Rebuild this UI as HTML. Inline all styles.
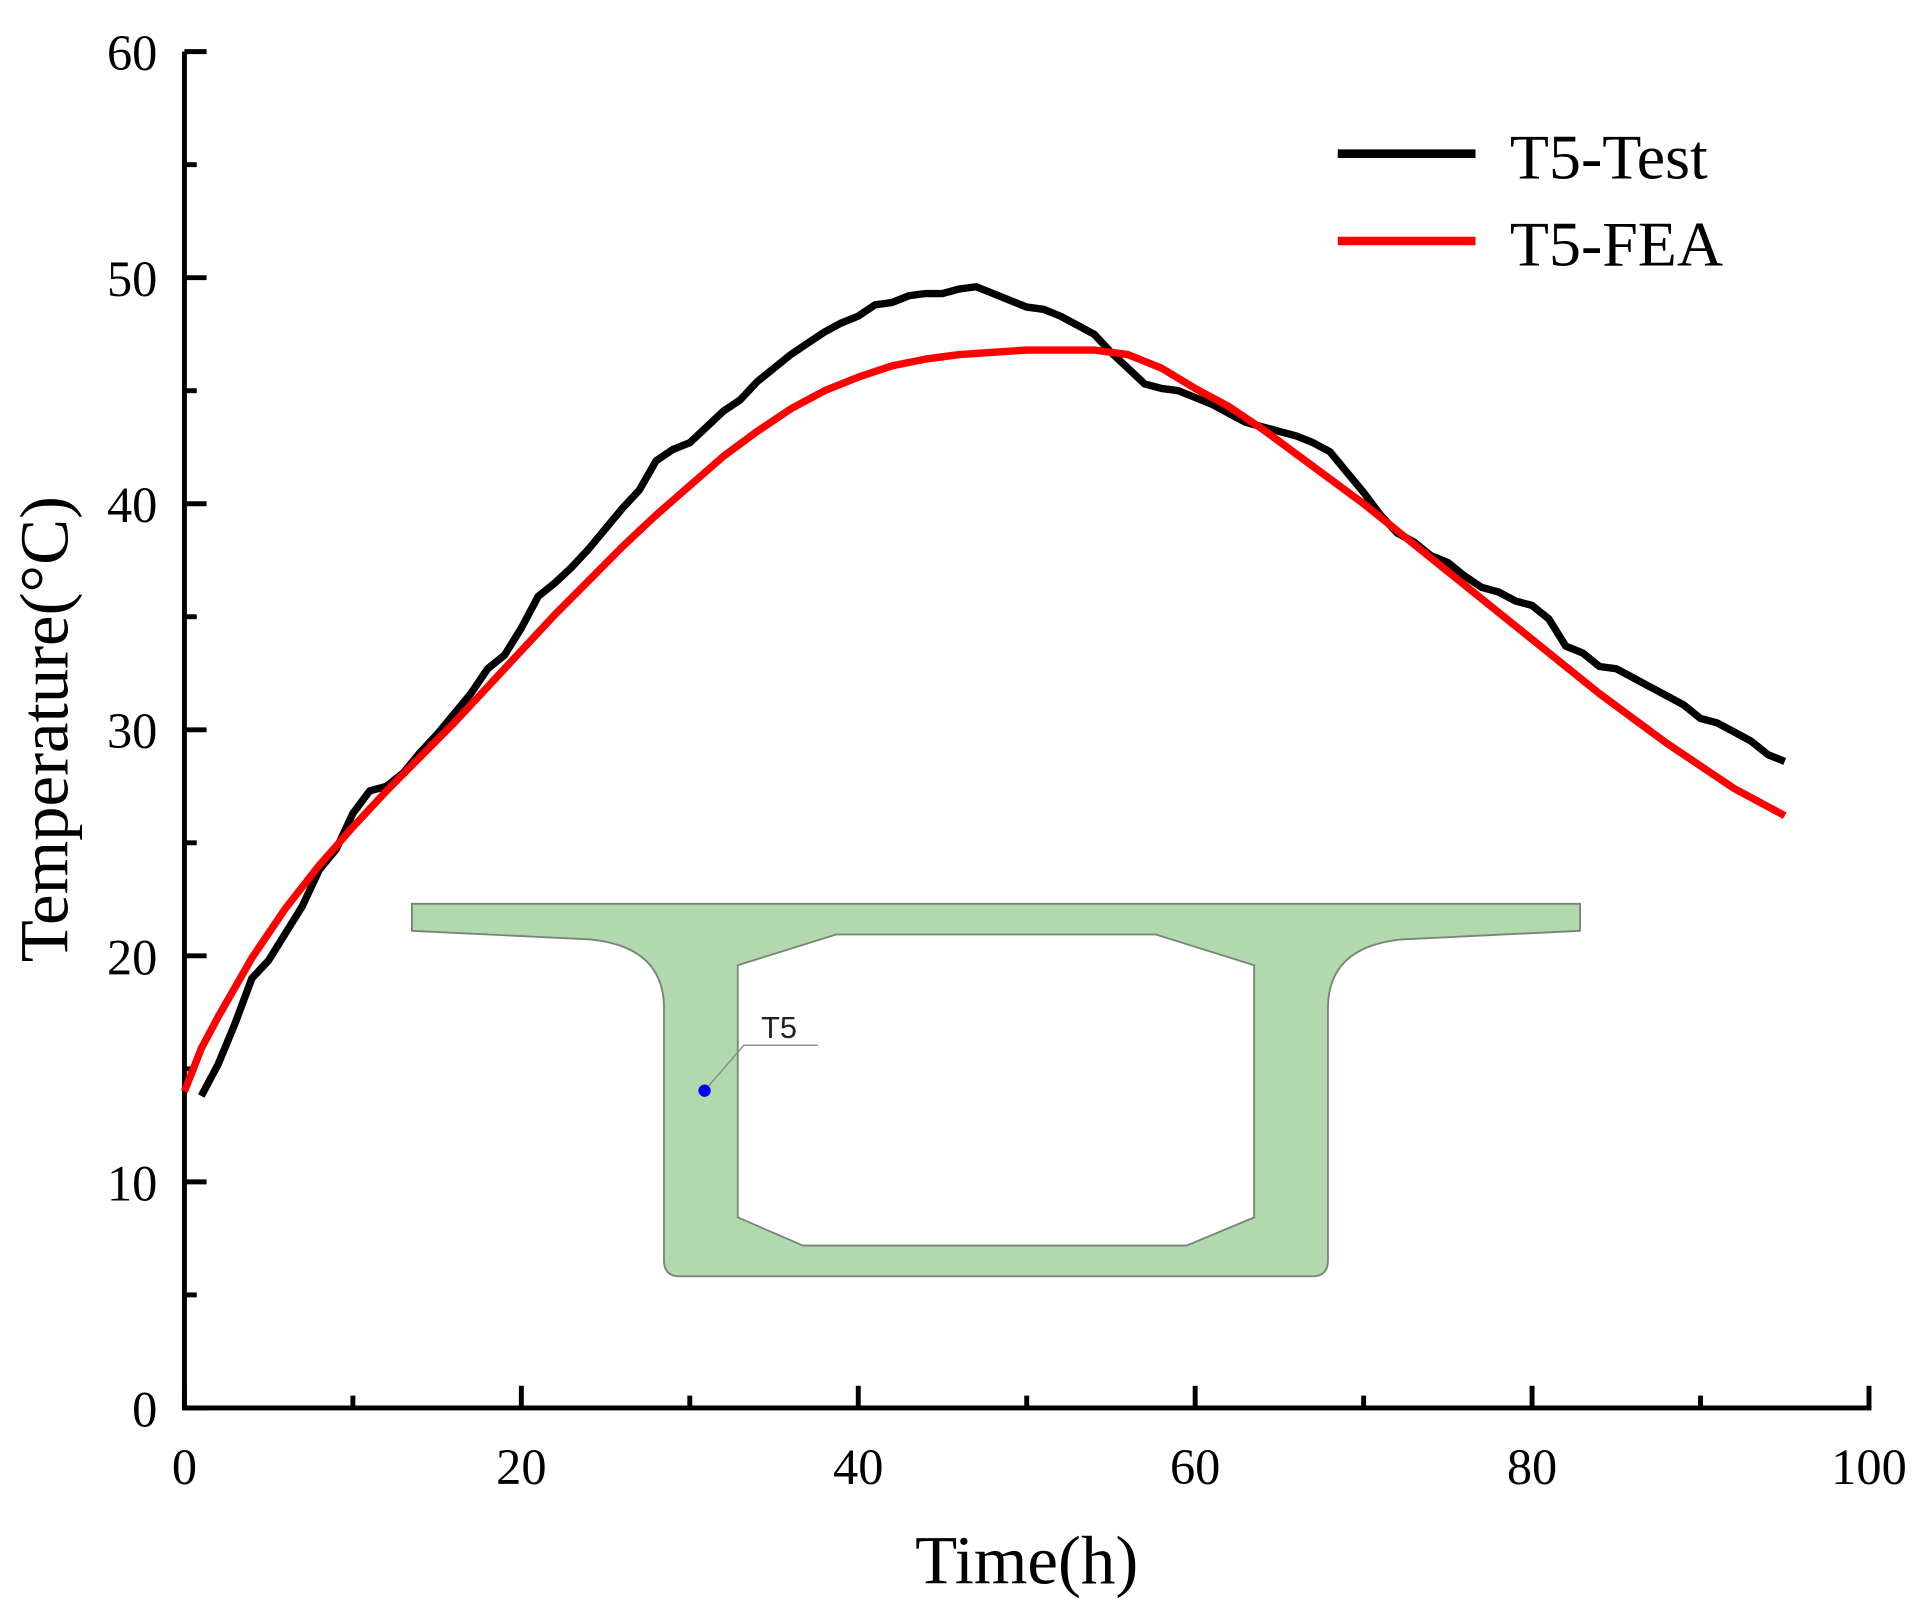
<!DOCTYPE html>
<html><head><meta charset="utf-8"><style>
html,body{margin:0;padding:0;background:#fff;}
svg{display:block;}
text{font-family:"Liberation Serif",serif;}
</style></head><body>
<svg id="chart" width="1928" height="1614" viewBox="0 0 1568 1312.6" preserveAspectRatio="none" xmlns="http://www.w3.org/2000/svg">
<g id="inset">
<path fill-rule="evenodd" fill="#b2d9ae" stroke="#7a857a" stroke-width="1.5"
 d="M335,735 H1285 V757 L1140,764 Q1080,770 1080,820 V1025 Q1080,1038 1067,1038 H553 Q540,1038 540,1025 V820 Q540,770 480,764 L335,757 Z
    M600,785 L680,760 H940 L1020,785 V990 L965,1013 H653 L600,990 Z"/>
<polyline points="573,887 605,850 665,850" fill="none" stroke="#888" stroke-width="1.2"/>
<circle cx="573" cy="887" r="5" fill="#0000ff"/>
<text x="619" y="844" font-size="25" style="font-family:'Liberation Sans',sans-serif" fill="#222">T5</text>
</g>
<g id="axes"></g>
<g id="series"></g>
<g>
<line x1="1088" y1="125" x2="1200" y2="125" stroke="#000" stroke-width="7"/>
<text x="1228" y="145" font-size="52">T5-Test</text>
<line x1="1088" y1="196" x2="1200" y2="196" stroke="#ff0000" stroke-width="7"/>
<text x="1228" y="216" font-size="52">T5-FEA</text>
</g>
<text x="835" y="1288" font-size="56" text-anchor="middle">Time(h)</text>
<text transform="translate(55,593) rotate(-90)" font-size="56" text-anchor="middle">Temperature(°C)</text>
</svg>
<script>
const xTicks=[0,20,40,60,80,100];
const yTicks=[0,10,20,30,40,50,60];
const testX=[1,2,3,4,5,6,7,8,9,10,11,12,13,14,15,16,17,18,19,20,21,22,23,24,25,26,27,28,29,30,31,32,33,34,35,36,37,38,39,40,41,42,43,44,45,46,47,48,49,50,51,52,53,54,55,56,57,58,59,60,61,62,63,64,65,66,67,68,69,70,71,72,73,74,75,76,77,78,79,80,81,82,83,84,85,86,87,88,89,90,91,92,93,94,95];
const testY=[13.8,15.2,17,19,19.8,21,22.2,23.8,24.7,26.3,27.3,27.5,28.1,29,29.8,30.7,31.6,32.7,33.3,34.5,35.9,36.5,37.2,38,38.9,39.8,40.6,41.9,42.4,42.7,43.4,44.1,44.6,45.4,46,46.6,47.1,47.6,48,48.3,48.8,48.9,49.2,49.3,49.3,49.5,49.6,49.3,49,48.7,48.6,48.3,47.9,47.5,46.7,46,45.3,45.1,45,44.7,44.4,44,43.6,43.4,43.2,43,42.7,42.3,41.4,40.5,39.5,38.7,38.3,37.7,37.4,36.8,36.3,36.1,35.7,35.5,34.9,33.7,33.4,32.8,32.7,32.3,31.9,31.5,31.1,30.5,30.3,29.9,29.5,28.9,28.6];
const feaX=[0,1,2,4,6,8,10,12,14,16,18,20,22,24,26,28,30,32,34,36,38,40,42,44,46,48,50,52,54,56,58,60,62,64,66,68,70,72,74,76,78,80,82,84,86,88,90,92,94,95];
const feaY=[14,15.9,17.3,19.9,22.1,24,25.7,27.3,28.8,30.3,31.9,33.5,35.1,36.6,38.1,39.5,40.8,42.1,43.2,44.2,45,45.6,46.1,46.4,46.6,46.7,46.8,46.8,46.8,46.6,46,45.1,44.3,43.3,42.2,41.1,40,38.8,37.6,36.4,35.2,34,32.8,31.6,30.5,29.4,28.4,27.4,26.6,26.2];
const X0=150,X1=1520,Y0=1145,Y1=42;
function sx(v){return X0+(v-0)/100*(X1-X0);}
function sy(v){return Y0-(v-0)/60*(Y0-Y1);}
const NS='http://www.w3.org/2000/svg';
function mk(tag,attrs,parent){const e=document.createElementNS(NS,tag);for(const k in attrs)e.setAttribute(k,attrs[k]);parent.appendChild(e);return e;}
const axes=document.getElementById('axes');
let a=mk('line',{x1:X0,y1:Y0,x2:X1+2,y2:Y0,stroke:'#000','stroke-width':4},axes);


a=mk('line',{x1:X0,y1:Y0+2,x2:X0,y2:Y1,stroke:'#000','stroke-width':4},axes);


for(let i=0;i<xTicks.length;i++){
 const v=xTicks[i];
 const t=mk('line',{x1:sx(v),y1:Y0,x2:sx(v),y2:Y0-18,stroke:'#000','stroke-width':4},axes);
 
 
 if(i<xTicks.length-1){const m=mk('line',{x1:sx(v+10),y1:Y0,x2:sx(v+10),y2:Y0-10,stroke:'#000','stroke-width':4},axes);
 
 }
 const l=mk('text',{x:sx(v),y:Y0+62,'font-size':41,'text-anchor':'middle'},axes);l.textContent=v;
 
 
}
for(let i=0;i<yTicks.length;i++){
 const v=yTicks[i];
 const t=mk('line',{x1:X0,y1:sy(v),x2:X0+18,y2:sy(v),stroke:'#000','stroke-width':4},axes);
 
 
 if(i<yTicks.length-1){const m=mk('line',{x1:X0,y1:sy(v+5),x2:X0+10,y2:sy(v+5),stroke:'#000','stroke-width':4},axes);
 
 }
 const l=mk('text',{x:X0-22,y:sy(v)+15,'font-size':41,'text-anchor':'end'},axes);l.textContent=v;
 
 
}
const ser=document.getElementById('series');
let p=mk('polyline',{points:testX.map((x,i)=>sx(x)+','+sy(testY[i])).join(' '),fill:'none',stroke:'#000','stroke-width':6,'stroke-linejoin':'round'},ser);


p=mk('polyline',{points:feaX.map((x,i)=>sx(x)+','+sy(feaY[i])).join(' '),fill:'none',stroke:'#ff0000','stroke-width':6,'stroke-linejoin':'round'},ser);


</script>
</body></html>
